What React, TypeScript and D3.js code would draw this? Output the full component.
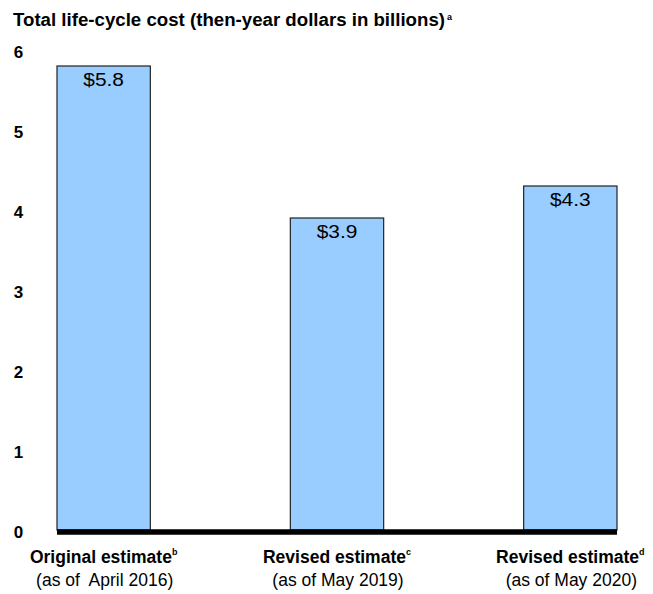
import { useRef, useEffect } from 'react'
import * as d3 from 'd3'

const categories = ['Original estimate', 'Revised estimate', 'Revised estimate']
const footnotes = ['b', 'c', 'd']
const asOfLabels = ['(as of  April 2016)', '(as of May 2019)', '(as of May 2020)']
const values = [5.8, 3.9, 4.3]
const yTicks = [0, 1, 2, 3, 4, 5, 6]

export default function App() {
  const ref = useRef<SVGSVGElement>(null)

  useEffect(() => {
    if (!ref.current) return
    const svg = d3.select(ref.current)
    svg.selectAll('*').remove()

    const font = 'Arial, "Liberation Sans", sans-serif'
    const keys = categories.map((_, i) => String(i))

    const x = d3.scaleBand().domain(keys).range([57, 617]).paddingInner(0.6).paddingOuter(0)
    const y = d3.scaleLinear().domain([0, 6]).range([530, 50])

    // Title
    const title = svg
      .append('text')
      .attr('x', 13)
      .attr('y', 26)
      .attr('font-family', font)
      .attr('font-size', '18px')
      .attr('font-weight', 'bold')
      .attr('fill', '#000')
    title
      .append('tspan')
      .attr('textLength', 432)
      .attr('lengthAdjust', 'spacingAndGlyphs')
      .text('Total life-cycle cost (then-year dollars in billions)')
    title.append('tspan').attr('x', 447).attr('font-size', '9px').attr('dy', '-6').text('a')

    // Y tick labels
    svg
      .append('g')
      .selectAll('text')
      .data(yTicks)
      .join('text')
      .attr('x', 18.5)
      .attr('y', (d) => y(d) + 7.5)
      .attr('text-anchor', 'middle')
      .attr('font-family', font)
      .attr('font-size', '17px')
      .attr('font-weight', 'bold')
      .text((d) => d)

    // Bars
    svg
      .append('g')
      .selectAll('rect')
      .data(values)
      .join('rect')
      .attr('x', (_, i) => x(keys[i])!)
      .attr('y', (d) => y(d))
      .attr('width', x.bandwidth())
      .attr('height', (d) => y(0) - y(d))
      .attr('fill', '#99ccff')
      .attr('stroke', '#222')
      .attr('stroke-width', 1.2)

    // Value labels
    svg
      .append('g')
      .selectAll('text')
      .data(values)
      .join('text')
      .attr('transform', (d, i) => `translate(${x(keys[i])! + x.bandwidth() / 2},${y(d) + 20}) scale(1.1,1)`)
      .attr('text-anchor', 'middle')
      .attr('font-family', font)
      .attr('font-size', '19px')
      .attr('fill', '#000')
      .text((d) => `$${d.toFixed(1)}`)

    // Baseline
    svg
      .append('line')
      .attr('x1', 57)
      .attr('x2', 617)
      .attr('y1', y(0) + 2)
      .attr('y2', y(0) + 2)
      .attr('stroke', '#000')
      .attr('stroke-width', 5.5)

    // Category labels
    const labels = svg.append('g')
    categories.forEach((cat, i) => {
      const cx = x(keys[i])! + x.bandwidth() / 2
      const t = labels
        .append('text')
        .attr('x', cx)
        .attr('y', 563)
        .attr('text-anchor', 'middle')
        .attr('font-family', font)
        .attr('font-size', '17.5px')
        .attr('font-weight', 'bold')
      t.append('tspan').text(cat)
      t.append('tspan').attr('font-size', '9px').attr('dy', '-8').text(footnotes[i])

      labels
        .append('text')
        .attr('x', cx + 1)
        .attr('y', 586)
        .attr('text-anchor', 'middle')
        .attr('font-family', font)
        .attr('font-size', '17.5px')
        .style('white-space', 'pre')
        .text(asOfLabels[i])
    })
  }, [])

  return (
    <svg
      ref={ref}
      width={653}
      height={594}
      style={{ position: 'absolute', left: 0, top: 0, background: '#fff' }}
    />
  )
}
